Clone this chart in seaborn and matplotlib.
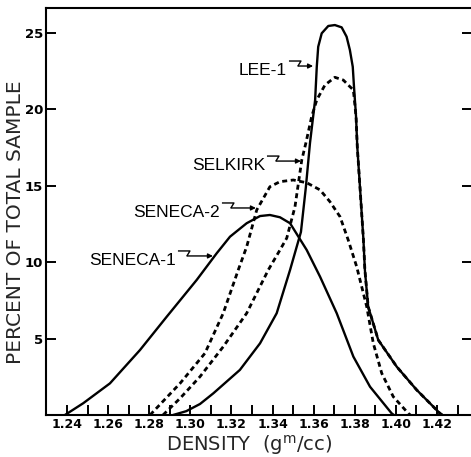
import matplotlib
matplotlib.use('Agg')
import matplotlib.pyplot as plt
from matplotlib import font_manager
import numpy as np
import pandas as pd
import seaborn as sns

# curves: density (gm/cc) vs percent of total sample
lee1_x = [1.2916, 1.2980, 1.3047, 1.3112, 1.3241, 1.3339, 1.3420, 1.3485, 1.3538, 1.3562,
          1.3582, 1.3607, 1.3615, 1.3622, 1.3639, 1.3671, 1.3703, 1.3736, 1.3760, 1.3776,
          1.3790, 1.3796, 1.3806, 1.3812, 1.3826, 1.3842, 1.3849, 1.3865, 1.3914, 1.4004,
          1.4101, 1.4214, 1.4225]
lee1_y = [0.0, 0.25, 0.72, 1.42, 2.95, 4.69, 6.66, 9.49, 11.98, 14.92,
          17.80, 20.62, 22.79, 24.10, 24.98, 25.46, 25.52, 25.37, 24.76, 23.89,
          22.79, 21.49, 19.52, 17.56, 14.73, 11.45, 9.49, 7.09, 4.91, 3.16,
          1.64, 0.11, 0.0]

# right limb of selkirk runs under the lee-1 line
selkirk_x = [1.2867, 1.2950, 1.3047, 1.3160, 1.3274, 1.3379, 1.3436, 1.3469, 1.3509, 1.3542,
             1.3562, 1.3590, 1.3615, 1.3655, 1.3703, 1.3744, 1.3776, 1.3793, 1.3806, 1.3812,
             1.3826, 1.3842, 1.3849, 1.3865, 1.3914, 1.4004, 1.4101, 1.4214, 1.4225]
selkirk_y = [0.0, 1.09, 2.51, 4.47, 6.66, 9.49, 10.80, 11.58, 13.63, 16.69,
             17.80, 19.52, 20.62, 21.60, 22.10, 21.92, 21.49, 21.27, 19.52, 17.56,
             14.73, 11.45, 9.49, 7.09, 4.91, 3.16, 1.64, 0.11, 0.0]

seneca2_x = [1.2804, 1.2950, 1.3071, 1.3160, 1.3233, 1.3274, 1.3323, 1.3387, 1.3436, 1.3501,
             1.3566, 1.3631, 1.3679, 1.3728, 1.3768, 1.3809, 1.3858, 1.3890, 1.3931, 1.3987,
             1.4060, 1.4070]
seneca2_y = [0.0, 2.07, 4.04, 6.66, 9.49, 11.01, 13.42, 14.94, 15.27, 15.38,
             15.20, 14.73, 13.96, 12.98, 11.45, 9.71, 7.09, 4.69, 2.73, 1.20,
             0.11, 0.0]

seneca1_x = [1.2390, 1.2479, 1.2609, 1.2755, 1.2885, 1.3031, 1.3128, 1.3193, 1.3274, 1.3339,
             1.3387, 1.3436, 1.3485, 1.3566, 1.3631, 1.3712, 1.3793, 1.3874, 1.3979, 1.3990]
seneca1_y = [0.0, 0.77, 2.07, 4.25, 6.43, 8.84, 10.58, 11.67, 12.55, 13.02,
             13.09, 12.94, 12.55, 10.80, 9.05, 6.66, 3.82, 1.85, 0.11, 0.0]

# labels: name, right end of text, baseline, arrow tip
label_names = ['LEE-1', 'SELKIRK', 'SENECA-2', 'SENECA-1']
label_right = [1.3470, 1.3363, 1.3144, 1.2930]
label_base = [22.25, 16.03, 12.96, 9.82]
label_tip = [1.3597, 1.3538, 1.3319, 1.3110]

x_ticks = np.round(np.arange(1.23, 1.4351, 0.01), 2)
y_ticks = [5, 10, 15, 20, 25]

sns.set_style('ticks')
plt.rcParams['font.family'] = ['DejaVu Sans']

installed = {f.name for f in font_manager.fontManager.ttflist}
if 'Liberation Sans Narrow' in installed:
    label_font, label_size = 'Liberation Sans Narrow', 15
else:
    label_font, label_size = 'Liberation Sans', 12.5

fig = plt.figure(figsize=(4.71, 4.57), dpi=100)
ax = fig.add_axes([46 / 471, 42 / 457, 426 / 471, 407 / 457])

x_lo = 1.2298
x_hi = x_lo + 426 / 2056
y_hi = 407 / 15.28
px_x = (x_hi - x_lo) / 426
px_y = y_hi / 407

dash = (0, (1.8, 1.3))
curves = [
    (lee1_x, lee1_y, '-', 1.7),
    (selkirk_x, selkirk_y, dash, 2.0),
    (seneca2_x, seneca2_y, dash, 2.0),
    (seneca1_x, seneca1_y, '-', 1.7),
]
for xs, ys, ls, lw in curves:
    df = pd.DataFrame({'density': xs, 'percent': ys})
    sns.lineplot(data=df, x='density', y='percent', ax=ax, color='black',
                 linestyle=ls, lw=lw, sort=False, estimator=None)

# squiggly leaders
for name, xr, yb, xt in zip(label_names, label_right, label_base, label_tip):
    ax.text(xr, yb, name, ha='right', va='baseline', fontfamily=label_font,
            fontsize=label_size, color='black')
    x0 = xr + 2 * px_x
    y_top = yb + 14 * px_y
    y_bot = yb + 9 * px_y
    ax.plot([x0, x0 + 12 * px_x, x0 + 9 * px_x], [y_top, y_top, y_bot],
            color='black', lw=1.0, solid_capstyle='butt')
    ax.annotate('', xy=(xt, y_bot), xytext=(x0 + 9 * px_x, y_bot),
                arrowprops=dict(arrowstyle='-|>', lw=1.0, color='black',
                                mutation_scale=7, shrinkA=0, shrinkB=0))

ax.set_xlim(x_lo, x_hi)
ax.set_ylim(0, y_hi)

ax.set_xticks(x_ticks)
ax.set_xticklabels([f'{v:.2f}' if (round(v * 100) % 2 == 0 and 1.24 <= v <= 1.42) else ''
                    for v in x_ticks])
ax.set_yticks(y_ticks)
ax.set_yticklabels([str(v) for v in y_ticks])

ax.tick_params(axis='both', direction='in', length=7, width=1.4, colors='black')
ax.tick_params(axis='x', pad=2, labelsize=9)
ax.tick_params(axis='y', pad=2, labelsize=9.5, right=True, labelright=False)
for lab in ax.get_xticklabels() + ax.get_yticklabels():
    lab.set_fontweight('bold')

for side in ['left', 'bottom', 'top']:
    ax.spines[side].set_linewidth(1.5)
    ax.spines[side].set_color('black')
ax.spines['right'].set_visible(False)

ax.set_ylabel('PERCENT OF TOTAL SAMPLE', fontsize=14.5)
ax.yaxis.set_label_coords(-0.050, 0.474)
ax.set_xlabel('DENSITY  (g$^{\\rm m}$/cc)', fontsize=14)
ax.xaxis.set_label_coords(0.4765, -0.043)

fig.savefig('out.png', dpi=100)
